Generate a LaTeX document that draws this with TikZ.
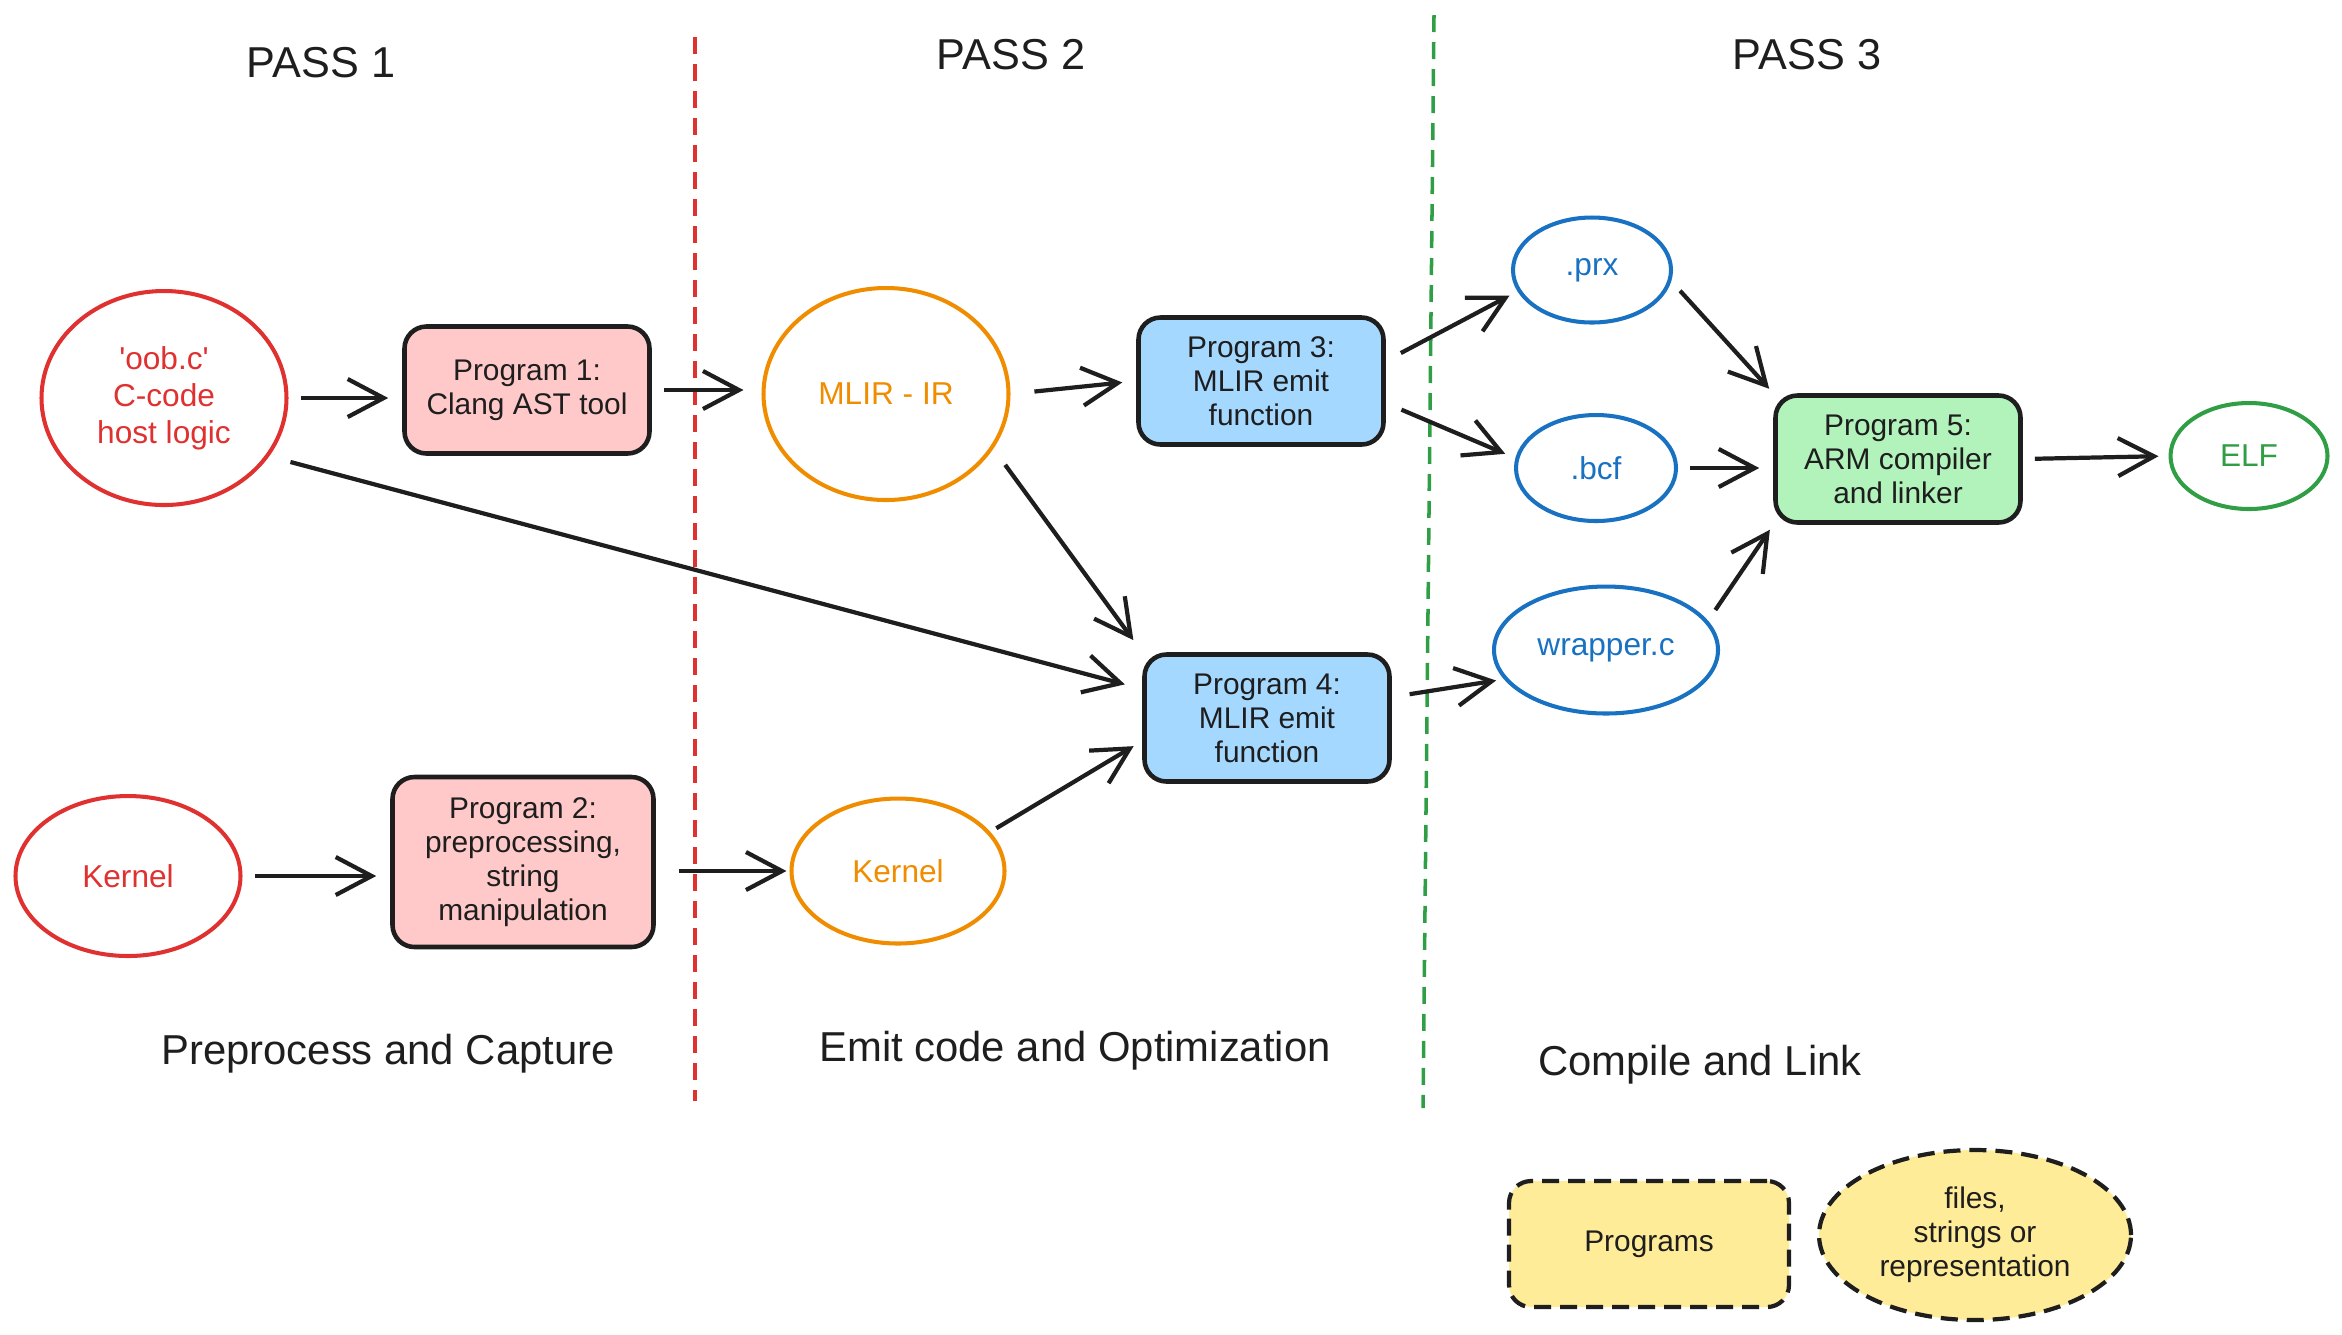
\documentclass[tikz,border=0pt]{standalone}
\usepackage{fontspec}
\setmainfont{Liberation Sans}
\usetikzlibrary{positioning, calc, arrows.meta, shapes.geometric}

\definecolor{exred}{HTML}{E03131}
\definecolor{exorange}{HTML}{F08C00}
\definecolor{exblue}{HTML}{1971C2}
\definecolor{exgreen}{HTML}{2F9E44}
\definecolor{pinkfill}{HTML}{FFC9C9}
\definecolor{bluefill}{HTML}{A5D8FF}
\definecolor{greenfill}{HTML}{B2F2BB}
\definecolor{yellowfill}{HTML}{FFEC99}
\definecolor{ink}{HTML}{1E1E1E}

\tikzset{
    prog/.style={draw=ink, line width=1.3pt, rounded corners=2.2mm, minimum width=24.5mm, minimum height=12.7mm,
        align=center, text=ink, inner sep=1mm, font=\fontsize{8.5}{9.7}\selectfont},
    datafile/.style={ellipse, line width=1.15pt, align=center, inner sep=0pt, font=\fontsize{9}{10.5}\selectfont},
    flow/.style={draw=ink, line width=1.2pt, -{Straight Barb[length=3.6mm, width=3.8mm]}, shorten <=1.2mm, shorten >=1.4mm},
    passlabel/.style={text=ink, font=\fontsize{12.3}{14}\selectfont},
    phaselabel/.style={text=ink, font=\fontsize{11.9}{14}\selectfont},
    legenddash/.style={line width=1.2pt, dash pattern=on 1.7mm off 0.9mm}
}

\begin{document}
\begin{tikzpicture}[x=0.1mm, y=-0.1mm]
        \useasboundingbox (0,0) rectangle (2342,1334);

        % 1. Pass titles and phase captions
        \node[passlabel] (pass1) at (321,63) {PASS 1};
        \node[passlabel] (pass2) at (1011,55) {PASS 2};
        \node[passlabel] (pass3) at (1807,55) {PASS 3};
        \node[phaselabel] (capture) at (388,1054) {Preprocess and Capture};
        \node[phaselabel] (emit) at (1075,1051) {Emit code and Optimization};
        \node[phaselabel] (link) at (1700,1065) {Compile and Link};

        % 2. Dashed separators between the passes
        \coordinate (sepAtop) at (695,37);
        \coordinate (sepAbot) at (695,1101);
        \coordinate (sepBtop) at (1434,15);
        \coordinate (sepBbot) at (1423,1108);
        \draw[exred, line width=1pt, dash pattern=on 1.7mm off 1mm] (sepAtop) -- (sepAbot);
        \draw[exgreen, line width=1pt, dash pattern=on 1.7mm off 1mm] (sepBtop) -- (sepBbot);

        % 3. Pass 1: sources and the first two programs
        \node[datafile, draw=exred, text=exred, minimum width=24.5mm, minimum height=21.4mm] (oob) at (164,398)
            {\textquotesingle oob.c\textquotesingle\\C-code\\host logic};
        \node[prog, fill=pinkfill] (prog1) at (527,390) {Program 1:\\Clang AST tool};
        \node[datafile, draw=exred, text=exred, minimum width=22.5mm, minimum height=16mm] (kernA) at (128,876) {Kernel};
        \node[prog, fill=pinkfill, minimum width=26.1mm, minimum height=17mm] (prog2) at (523,862)
            {Program 2:\\preprocessing,\\string\\manipulation};

        % 4. Pass 2: intermediate representation and emitters
        \node[datafile, draw=exorange, text=exorange, minimum width=24.5mm, minimum height=21.2mm] (mlir) at (886,394) {MLIR - IR};
        \node[datafile, draw=exorange, text=exorange, minimum width=21.3mm, minimum height=14.5mm] (kernB) at (898,871) {Kernel};
        \node[prog, fill=bluefill] (prog3) at (1261,381) {Program 3:\\MLIR emit\\function};
        \node[prog, fill=bluefill] (prog4) at (1267,718) {Program 4:\\MLIR emit\\function};

        % 5. Pass 3: generated files, compiler and output
        \node[datafile, draw=exblue, text=exblue, minimum width=15.8mm, minimum height=10.5mm] (prx) at (1592,270) {.prx};
        \node[datafile, draw=exblue, text=exblue, minimum width=16mm, minimum height=10.6mm] (bcf) at (1596,468) {.bcf};
        \node[datafile, draw=exblue, text=exblue, minimum width=22.4mm, minimum height=12.7mm] (wrap) at (1606,650) {wrapper.c};
        \node[prog, fill=greenfill] (prog5) at (1898,459) {Program 5:\\ARM compiler\\and linker};
        \node[datafile, draw=exgreen, text=exgreen, minimum width=15.7mm, minimum height=10.6mm] (elf) at (2249,456) {ELF};

        % 6. Connectors
        \draw[flow] (oob.east) -- (oob.east -| prog1.west);
        \draw[flow, shorten >=1.8mm] (prog1.east) -- (prog1.east -| mlir.west);
        \draw[flow, shorten <=2.4mm] (mlir.east) -- (prog3.west);
        \draw[flow, shorten <=2mm, shorten >=1.5mm] (mlir.-27) -- (prog4.north west);
        \draw[flow, shorten <=2.2mm, shorten >=1.8mm] (oob.-29) -- ([yshift=2.9mm]prog4.west);
        \draw[flow] (kernA.east) -- (kernA.east -| prog2.west);
        \draw[flow, shorten <=2.3mm, shorten >=0.3mm] (prog2.east |- kernB.west) -- (kernB.west);
        \draw[flow, shorten <=0.7mm, shorten >=1mm] (kernB.23) -- ([yshift=-2.3mm]prog4.west);
        \draw[flow, shorten <=1.7mm, shorten >=0.9mm] ([yshift=2mm]prog3.east) -- (prx.196);
        \draw[flow, shorten <=1.7mm, shorten >=1.1mm] ([yshift=-2.2mm]prog3.east) -- (bcf.173);
        \draw[flow, shorten <=1.8mm, shorten >=0.8mm] ([yshift=2.1mm]prog4.east) -- (wrap.196);
        \draw[flow, shorten <=1.3mm, shorten >=0.6mm] (prx.-8) -- (prog5.north west);
        \draw[flow] (bcf.east) -- (bcf.east -| prog5.west);
        \draw[flow, shorten <=1.3mm, shorten >=0.6mm] (wrap.16) -- (prog5.south west);
        \draw[flow, shorten >=1mm] (prog5.east) -- (elf.west);

        % 7. Legend
        \node[prog, fill=yellowfill, legenddash, minimum width=28mm, minimum height=12.6mm] (legprog) at (1649,1244) {Programs};
        \node[datafile, draw=ink, text=ink, fill=yellowfill, legenddash, minimum width=31.2mm, minimum height=17mm,
            font=\fontsize{8.5}{9.7}\selectfont] (legfile) at (1975,1235) {files,\\strings or\\representation};

\end{tikzpicture}
\end{document}
